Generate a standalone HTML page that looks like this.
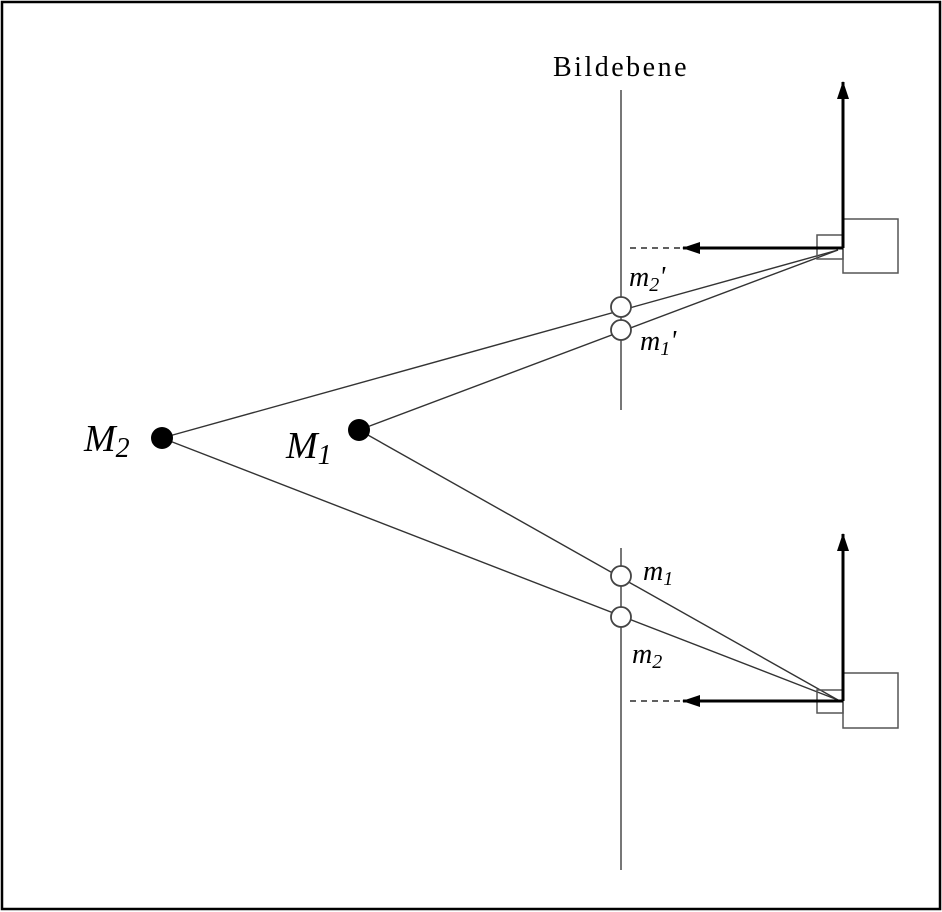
<!DOCTYPE html>
<html><head><meta charset="utf-8"><style>body{margin:0;background:#fff}svg{display:block}</style></head>
<body>
<svg width="942" height="912" viewBox="0 0 942 912">
<rect x="2" y="2" width="938" height="907" fill="#fff" stroke="#000" stroke-width="2.5"/>
<defs>
<marker id="ah2" viewBox="0 0 18 12" markerWidth="18" markerHeight="12" refX="17" refY="6" orient="auto" markerUnits="userSpaceOnUse"><path d="M0,0 L18,6 L0,12 Z" fill="#000"/></marker></defs>
<text x="621" y="76" text-anchor="middle" font-family="Liberation Serif, serif" font-size="28" letter-spacing="2.5">Bildebene</text>
<line x1="621" y1="90" x2="621" y2="410" stroke="#777" stroke-width="2"/>
<line x1="621" y1="548" x2="621" y2="870" stroke="#777" stroke-width="2"/>
<g stroke="#333" stroke-width="1.4" fill="none">
<line x1="162" y1="438" x2="838" y2="250"/>
<line x1="359" y1="430" x2="838" y2="250"/>
<line x1="359" y1="430" x2="838" y2="700"/>
<line x1="162" y1="438" x2="838" y2="700"/>
</g>
<g>
<rect x="843" y="219" width="55" height="54" fill="none" stroke="#555" stroke-width="1.5"/>
<rect x="817" y="235" width="26" height="24" fill="none" stroke="#555" stroke-width="1.5"/>
<line x1="843" y1="248" x2="843" y2="82" stroke="#000" stroke-width="3" marker-end="url(#ah2)"/>
<line x1="843" y1="248" x2="683" y2="248" stroke="#000" stroke-width="3" marker-end="url(#ah2)"/>
<line x1="630" y1="248" x2="680" y2="248" stroke="#000" stroke-width="1.2" stroke-dasharray="6,5"/>
</g>
<g>
<rect x="843" y="673" width="55" height="55" fill="none" stroke="#555" stroke-width="1.5"/>
<rect x="817" y="690" width="26" height="23" fill="none" stroke="#555" stroke-width="1.5"/>
<line x1="843" y1="701" x2="843" y2="534" stroke="#000" stroke-width="3" marker-end="url(#ah2)"/>
<line x1="843" y1="701" x2="683" y2="701" stroke="#000" stroke-width="3" marker-end="url(#ah2)"/>
<line x1="630" y1="701" x2="680" y2="701" stroke="#000" stroke-width="1.2" stroke-dasharray="6,5"/>
</g>
<g fill="#fff" stroke="#444" stroke-width="1.8">
<circle cx="621" cy="307" r="10"/><circle cx="621" cy="330" r="10"/>
<circle cx="621" cy="576" r="10"/><circle cx="621" cy="617" r="10"/>
</g>
<circle cx="162" cy="438" r="11" fill="#000"/>
<circle cx="359" cy="430" r="11" fill="#000"/>
<g font-family="Liberation Serif, serif" font-style="italic" fill="#000">
<text x="84" y="451" font-size="38">M<tspan font-size="28" dy="6">2</tspan></text>
<text x="286" y="458" font-size="38">M<tspan font-size="28" dy="6">1</tspan></text>
<text x="629" y="286" font-size="28">m<tspan font-size="20" dy="5">2</tspan><tspan dy="-5">'</tspan></text>
<text x="640" y="350" font-size="28">m<tspan font-size="20" dy="5">1</tspan><tspan dy="-5">'</tspan></text>
<text x="643" y="580" font-size="28">m<tspan font-size="20" dy="5">1</tspan></text>
<text x="632" y="663" font-size="28">m<tspan font-size="20" dy="5">2</tspan></text>
</g>
</svg>
</body></html>
